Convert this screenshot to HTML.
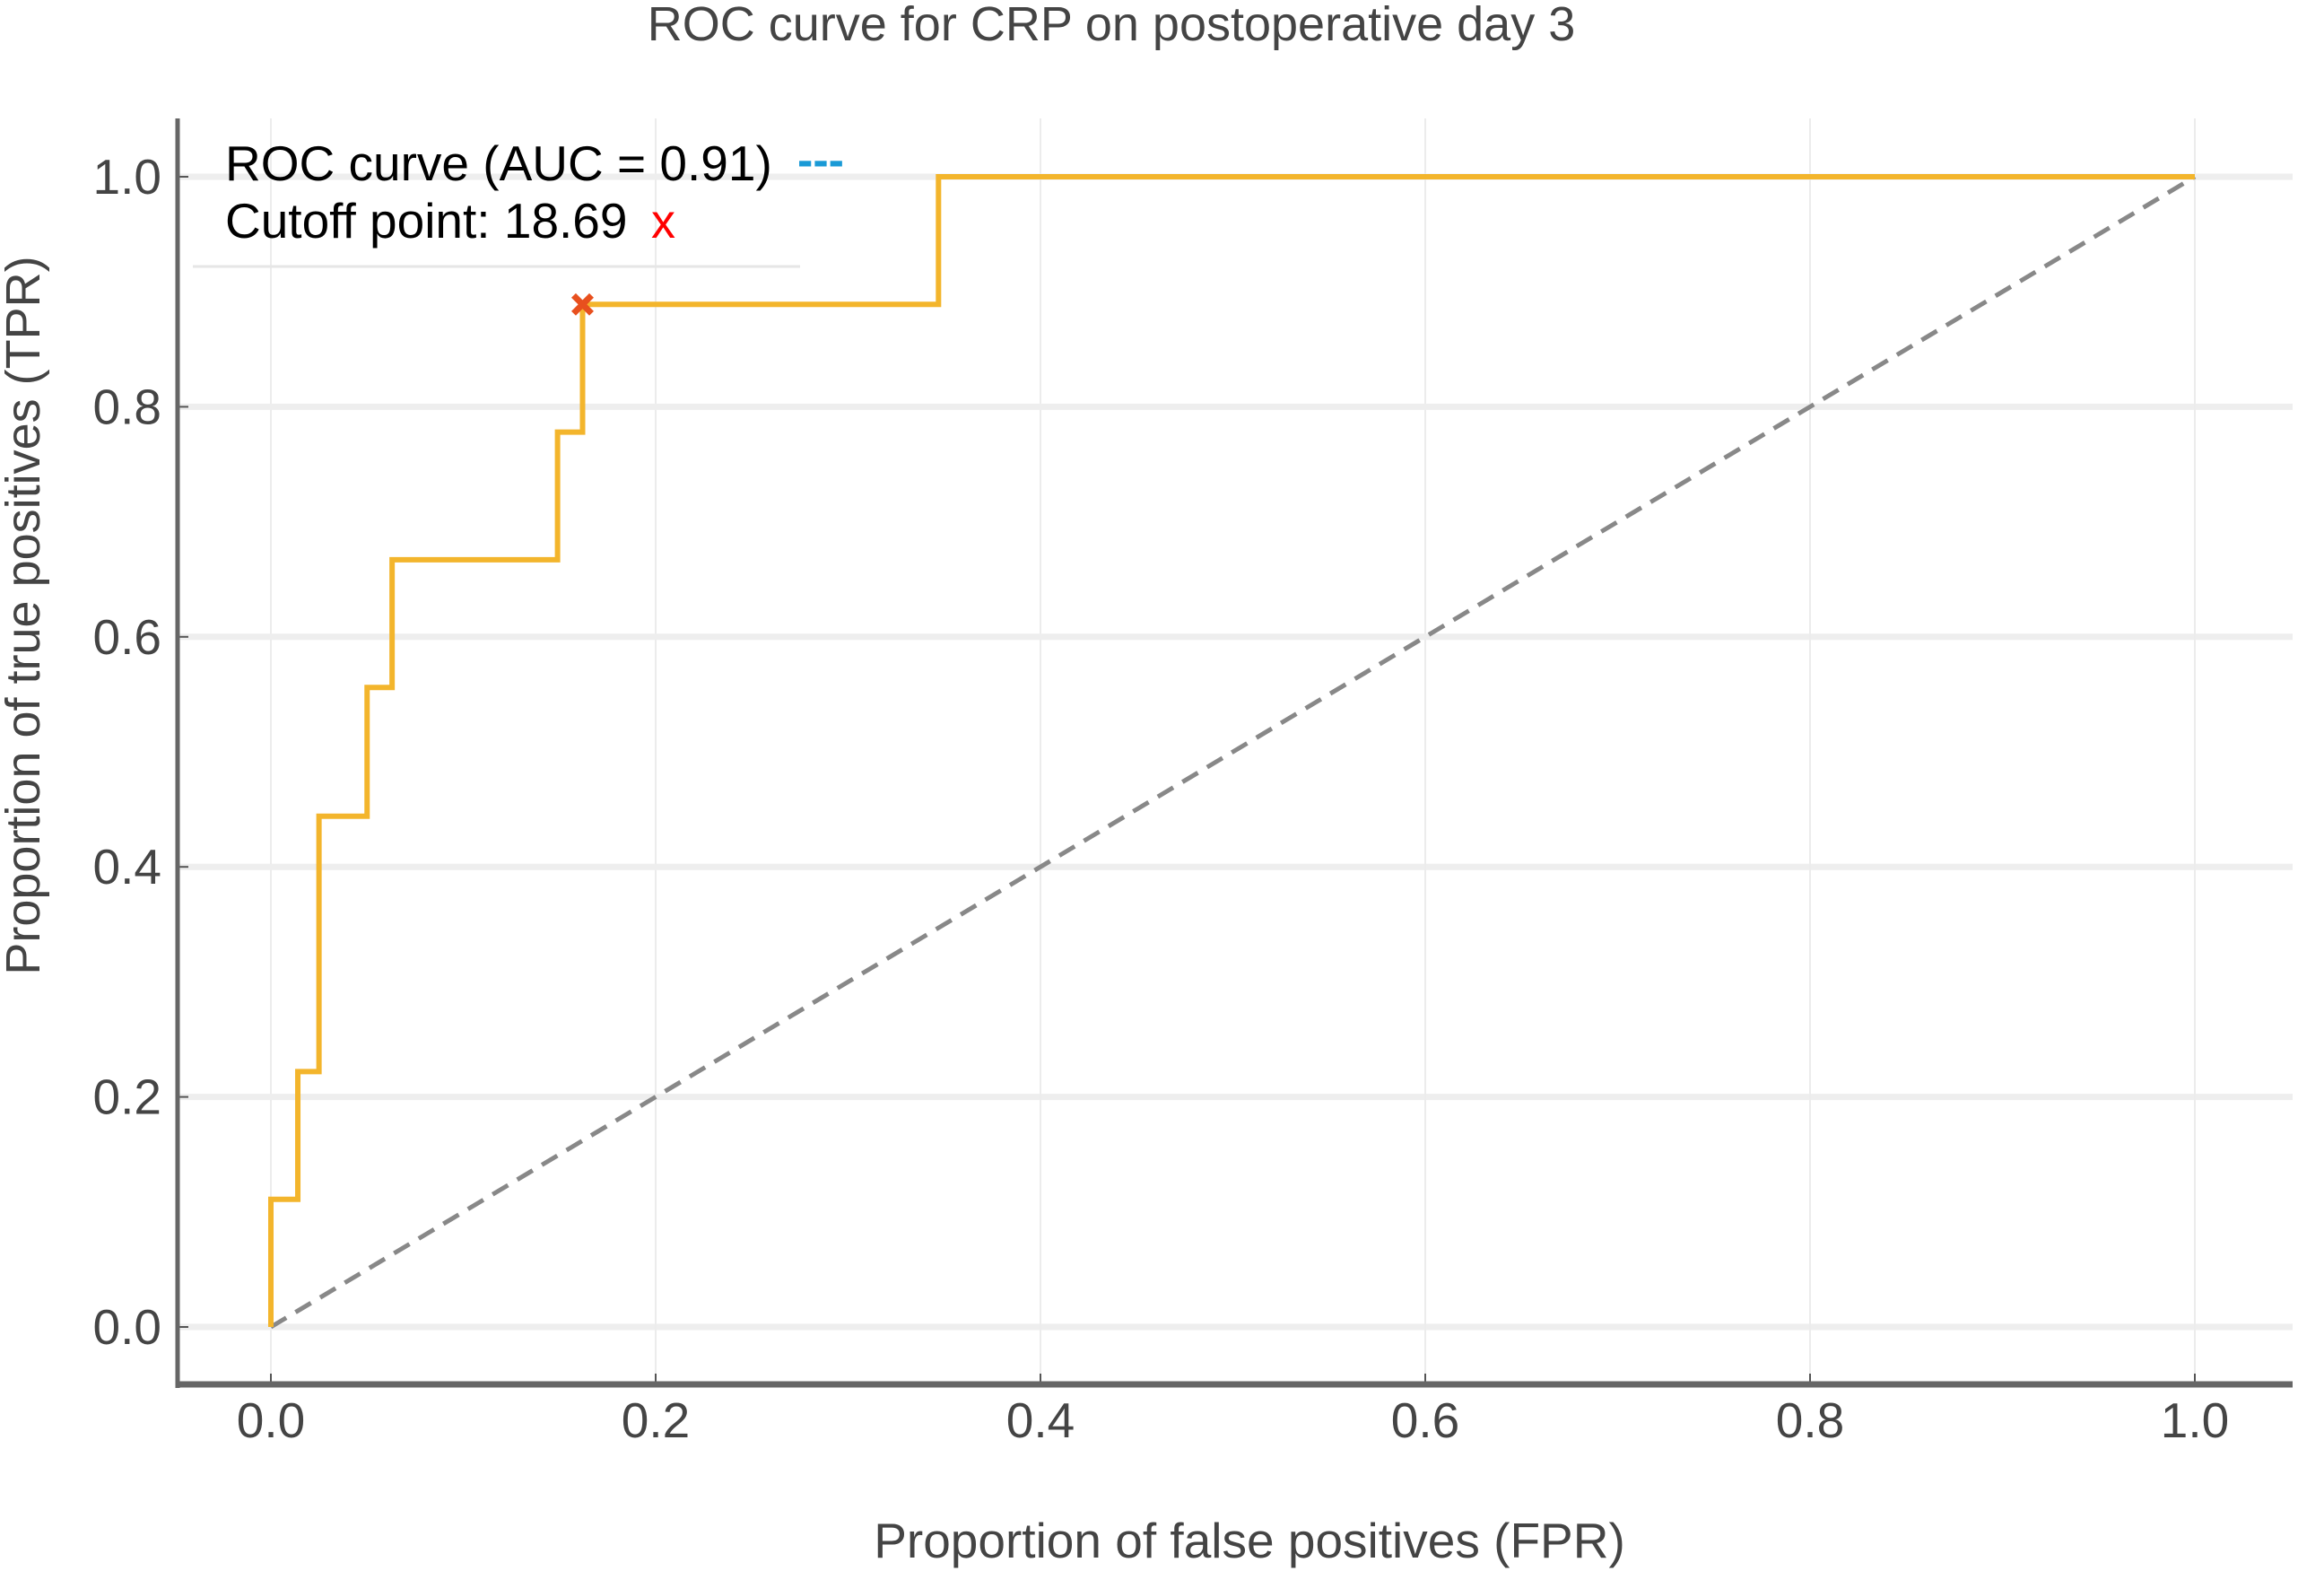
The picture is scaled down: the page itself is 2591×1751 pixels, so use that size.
<!DOCTYPE html>
<html><head><meta charset="utf-8"><style>
body{margin:0;background:#fff;}
svg{display:block;font-family:"Liberation Sans",sans-serif;}
</style></head><body>
<svg id="chart" width="2591" height="1751" viewBox="0 0 2591 1751" xmlns="http://www.w3.org/2000/svg">
<text x="1239" y="45" font-size="54" fill="#444" text-anchor="middle">ROC curve for CRP on postoperative day 3</text>
<g id="grid"></g>
<g id="axes"></g>
<g id="series"></g>
<text x="1393" y="1736" font-size="55" fill="#444" text-anchor="middle">Proportion of false positives (FPR)</text>
<text transform="translate(44,686) rotate(-90)" font-size="54" fill="#444" text-anchor="middle">Proportion of true positives (TPR)</text>
<g>
<line x1="215" y1="297" x2="892" y2="297" stroke="#e6e6e6" stroke-width="3"/>
<text x="251" y="201" font-size="55" fill="#000">ROC curve (AUC = 0.91)</text>
<text x="889" y="196" font-size="52" font-weight="bold" fill="#1a9ad6">---</text>
<text x="251" y="265" font-size="55" fill="#000">Cutoff point: 18.69</text>
<text x="726" y="265" font-size="54" fill="#f00">x</text>
</g>
</svg>
<script>
const fprValues = [0, 0.014, 0.025, 0.05, 0.063, 0.149, 0.162, 0.347, 1.0];
const tprValues = [0.111, 0.222, 0.444, 0.556, 0.667, 0.778, 0.889, 1.0, 1.0];
const cutoffPoint = [0.162, 0.889];
const tickValues = [0, 0.2, 0.4, 0.6, 0.8, 1.0];
const tickLabels = ["0.0", "0.2", "0.4", "0.6", "0.8", "1.0"];

const NS = "http://www.w3.org/2000/svg";
const xs = v => 302 + v * (2447 - 302);
const ys = v => 1479 - v * (1479 - 197);
function mk(parent, tag, attrs) {
  const e = document.createElementNS(NS, tag);
  for (const k in attrs) e.setAttribute(k, attrs[k]);
  document.getElementById(parent).appendChild(e);
  return e;
}
tickValues.forEach((t, i) => {
  let g = mk('grid', 'line', {x1: xs(t), x2: xs(t), y1: 132, y2: 1543, stroke: '#ececec', 'stroke-width': 2});
  
  
  g = mk('grid', 'line', {x1: 198, x2: 2556, y1: ys(t), y2: ys(t), stroke: '#eeeeee', 'stroke-width': 7});
  
  
  let tk = mk('axes', 'line', {x1: xs(t), x2: xs(t), y1: 1531, y2: 1543, stroke: '#555', 'stroke-width': 2});
  
  
  tk = mk('axes', 'line', {x1: 198, x2: 210, y1: ys(t), y2: ys(t), stroke: '#555', 'stroke-width': 2});
  
  
  let lx = mk('axes', 'text', {x: xs(t), y: 1602, 'font-size': 55, fill: '#444', 'text-anchor': 'middle'});
  lx.textContent = tickLabels[i];
  
  
  let ly = mk('axes', 'text', {x: 180, y: ys(t) + 19, 'font-size': 55, fill: '#444', 'text-anchor': 'end'});
  ly.textContent = tickLabels[i];
  
  
});
let sp = mk('axes', 'line', {x1: 198, x2: 198, y1: 132, y2: 1547, stroke: '#666', 'stroke-width': 5});


sp = mk('axes', 'line', {x1: 196, x2: 2556, y1: 1543, y2: 1543, stroke: '#666', 'stroke-width': 7});



let diag = mk('series', 'line', {x1: xs(0), y1: ys(0), x2: xs(1), y2: ys(1), stroke: '#888', 'stroke-width': 5, 'stroke-dasharray': '20 12'});



let d = 'M' + xs(0) + ',' + ys(0);
fprValues.forEach((f, i) => {
  d += ' H' + xs(f) + ' V' + ys(tprValues[i]);
});
let roc = mk('series', 'path', {d: d, fill: 'none', stroke: '#f3b52c', 'stroke-width': 6});



const cx = xs(cutoffPoint[0]), cy = ys(cutoffPoint[1]);
let cm = mk('series', 'path', {d: `M${cx-10},${cy-10} L${cx+10},${cy+10} M${cx-10},${cy+10} L${cx+10},${cy-10}`, stroke: '#e8501e', 'stroke-width': 7});


</script>
</body></html>
